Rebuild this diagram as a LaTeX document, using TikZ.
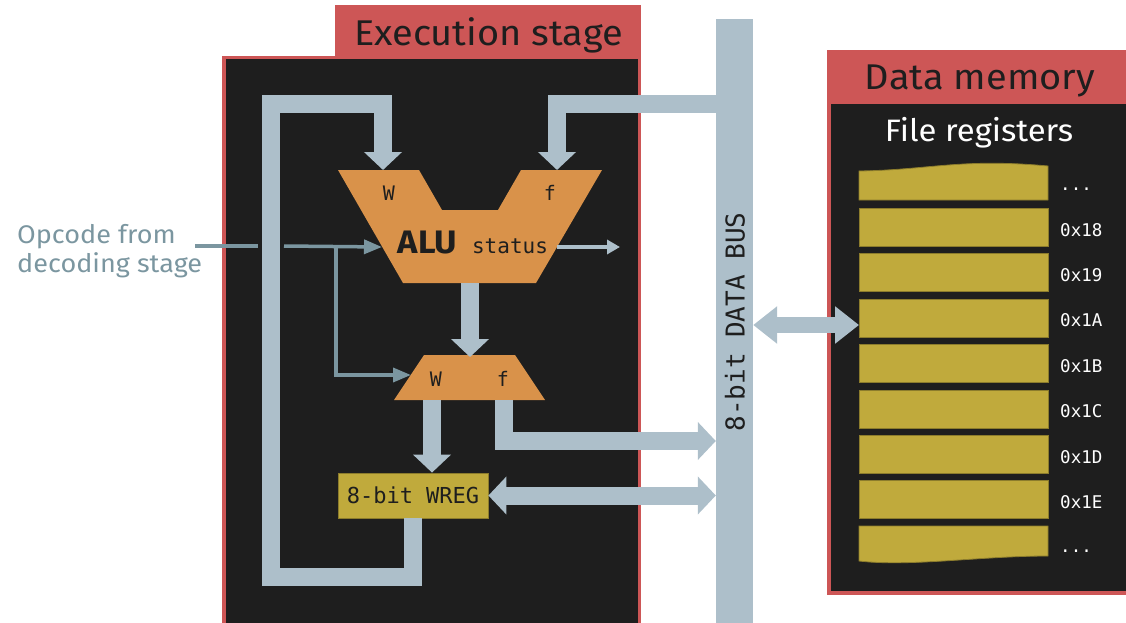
\documentclass[tikz,border=0pt]{standalone}
\usepackage{fontspec}
\setmainfont{Fira Sans}[FakeStretch=1.06]
\newfontfamily\monof{DejaVu Sans Mono}
\usetikzlibrary{arrows.meta}
\definecolor{redc}{HTML}{CD5656}
\definecolor{bgk}{HTML}{1E1E1E}
\definecolor{busc}{HTML}{ADBFCA}
\definecolor{aluc}{HTML}{D9924A}
\definecolor{regc}{HTML}{C0AA3C}
\definecolor{regedge}{HTML}{8C7C2C}
\definecolor{opc}{HTML}{7B96A0}
\begin{document}
\begin{tikzpicture}[x=1pt,y=-1pt,
 bar/.style={draw=busc, line width=18pt, line join=miter},
 bigtip/.style={-{Triangle[length=18pt 0 0,width=37pt 0 0]}},
 bigboth/.style={{Triangle[length=18pt 0 0,width=37pt 0 0]}-{Triangle[length=18pt 0 0,width=37pt 0 0]}},
 memboth/.style={{Triangle[length=24pt 0 0,width=36pt 0 0]}-{Triangle[length=24pt 0 0,width=36pt 0 0]}},
 opline/.style={draw=opc, line width=3.5pt},
 optip/.style={-{Triangle[length=18pt 0 0,width=14pt 0 0]}},
 monolab/.style={font=\monof\fontsize{21}{24}\selectfont, text=bgk, inner sep=0pt},
 reg/.style={fill=regc, draw=regedge, line width=0.8pt},
 reglabel/.style={anchor=base west, text=white, font=\monof\fontsize{17.5}{20}\selectfont, inner sep=0pt},
 title/.style={font=\fontsize{35.8}{40}\selectfont, text=bgk, anchor=base, inner sep=0pt},
 oplab/.style={font=\fontsize{25.5}{29}\selectfont, text=opc, anchor=base west, inner sep=0pt},
]
\useasboundingbox (0,0) rectangle (1126,623);
% execution stage frame
\fill[redc] (335,5) rectangle (641,59);
\fill[redc] (222,56) rectangle (641,630);
\fill[bgk] (226,59) rectangle (638,630);
\node[title] (exectitle) at (488.5,46) {Execution stage};
% data memory frame
\fill[redc] (827,50) rectangle (1130,595);
\fill[bgk] (831,104) rectangle (1130,591);
\node[title] (memtitle) at (980,90) {Data memory};
\node[font=\fontsize{31}{34}\selectfont, text=white, anchor=base, inner sep=0pt] (filereg) at (979,142) {File registers};
% registers
\fill[reg] (859,171) .. controls (930,170) and (960,158) .. (1048,166) -- (1048,200) -- (859,200) -- cycle;
\node[reglabel] (dotsA) at (1060,190) {...};
\foreach \i/\lab in {0/0x18,1/0x19,2/0x1A,3/0x1B,4/0x1C,5/0x1D,6/0x1E} {
  \node[reg, minimum width=189pt, minimum height=38pt, inner sep=0pt, anchor=north west] (r\i) at (859,{208+45.4*\i}) {};
  \node[reglabel] (l\i) at (1060,{236+45.4*\i}) {\lab};
}
\fill[reg] (859,526) -- (1048,526) -- (1048,556) .. controls (980,556) and (910,567) .. (859,561) -- cycle;
\node[reglabel] (dotsB) at (1060,552) {...};
% data bus
\node[fill=busc, minimum width=37pt, minimum height=611pt, inner sep=0pt, anchor=north] (bus) at (734.5,19) {};
\node[rotate=90, font=\monof\fontsize{26}{28}\selectfont, text=bgk, inner sep=0pt] (buslabel) at (735,322) {8-bit DATA BUS};
% ALU
\fill[aluc] (338,170) -- (419,170) -- (442,210) -- (498,210) -- (521,170) -- (602,170) -- (536,283) -- (403,283) -- cycle;
\coordinate (aluW) at (383,170);
\coordinate (aluF) at (557,170);
\coordinate (aluOut) at (470,283);
\coordinate (aluOp) at (382,247);
\coordinate (aluSt) at (557,247);
\node[monolab, font=\monof\fontsize{20}{22}\selectfont] (aluWl) at (389,193) {W};
\node[monolab, font=\monof\fontsize{20}{22}\selectfont] (aluFl) at (550,193) {f};
\node[font=\bfseries\fontsize{32.5}{34}\selectfont, text=bgk, anchor=base, inner sep=0pt] (alul) at (427.5,253) {ALU};
\node[monolab, anchor=base] (status) at (510,253) {status};
% mux
\fill[aluc] (424,355) -- (515,355) -- (545,400) -- (394,400) -- cycle;
\coordinate (muxIn) at (470,357);
\coordinate (muxW) at (432,400);
\coordinate (muxF) at (503.5,400);
\coordinate (muxOp) at (411,375);
\node[monolab, font=\monof\fontsize{20}{22}\selectfont] (muxWl) at (436,379) {W};
\node[monolab, font=\monof\fontsize{20}{22}\selectfont] (muxFl) at (503,379) {f};
% WREG
\node[fill=regc, draw=regedge, line width=0.8pt, minimum width=150pt, minimum height=45pt, inner sep=0pt, font=\monof\fontsize{22}{24}\selectfont, text=bgk] (wreg) at (413,495.5) {8-bit WREG};
% wide connectors
\coordinate (lp2) at (271,577);
\coordinate (lp3) at (271,104);
\coordinate (memY) at (800,325);
\draw[bar,bigtip] (bus.west |- 0,104) -| (aluF);
\draw[bar,bigtip] (wreg.south) -- (wreg.south |- lp2) -- (lp2) -- (lp3) -- (lp3 -| aluW) -- (aluW);
\draw[bar,bigtip] (aluOut) -- (muxIn);
\draw[bar,bigtip] (muxW) -- (wreg.north -| muxW);
\draw[bar,bigtip] (muxF) |- (bus.west |- 0,441);
\draw[bar,bigboth] (wreg.east) -- (bus.west |- wreg.east);
\draw[bar,line width=16pt,memboth] (bus.east |- memY) -- (memY -| r2.west);
% opcode
\node[oplab] (op1) at (17,243) {Opcode from};
\node[oplab] (op2) at (17,272) {decoding stage};
\coordinate (opA) at (195,246);
\coordinate (opB) at (258,246);
\coordinate (opC) at (284,246);
\coordinate (opJ) at (336,246);
\draw[opline] (opA) -- (opB);
\draw[opline,optip] (opC) -- (aluOp);
\draw[opline,optip] (opJ) |- (muxOp);
% status
\coordinate (stEnd) at (620,247);
\draw[draw=busc, line width=3.5pt, -{Triangle[length=13pt 0 0,width=14pt 0 0]}] (aluSt) -- (stEnd);
\end{tikzpicture}
\end{document}
